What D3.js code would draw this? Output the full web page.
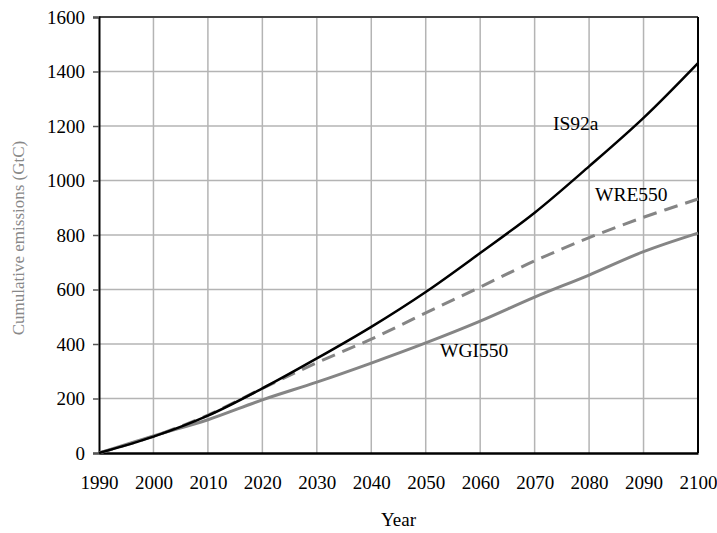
<!DOCTYPE html>
<html><head><meta charset="utf-8">
<script src="https://cdn.jsdelivr.net/npm/d3@7"></script>
<style>body{margin:0;background:#fff}svg{display:block}</style>
</head><body><svg id="c" width="717" height="533"></svg>
<script>
const years = [1990,2000,2010,2020,2030,2040,2050,2060,2070,2080,2090,2100];
const is92a  = [0,60,137,237,347,463,591,734,882,1052,1230,1431];
const wre550 = [0,61,139,237,331,418,514,609,705,790,865,932];
const wgi550 = [0,63,122,195,260,330,404,484,572,653,739,807];
const yTicks = [0,200,400,600,800,1000,1200,1400,1600];
const xTicks = [1990,2000,2010,2020,2030,2040,2050,2060,2070,2080,2090,2100];
const seriesNames = ["IS92a","WRE550","WGI550"];
const xTitle = "Year";
const yTitle = "Cumulative emissions (GtC)";

const svg = d3.select("#c");
const L=99, R=698, T=17, B=453;
const x = d3.scaleLinear().domain([1990,2100]).range([L,R]);
const y = d3.scaleLinear().domain([0,1600]).range([B,T]);
const font = "Liberation Serif, Times New Roman, serif";
const fs = 19;

// grid
svg.append("g").selectAll("line").data(xTicks.slice(1,-1)).join("line")
  .attr("x1",d=>x(d)).attr("x2",d=>x(d)).attr("y1",T).attr("y2",B)
  .attr("stroke","#b4b4b4").attr("stroke-width",1.5);
svg.append("g").selectAll("line").data(yTicks.slice(1,-1)).join("line")
  .attr("x1",L).attr("x2",R).attr("y1",d=>y(d)).attr("y2",d=>y(d))
  .attr("stroke","#b4b4b4").attr("stroke-width",1.5);

// frame
svg.append("line").attr("x1",L).attr("x2",R).attr("y1",T).attr("y2",T).attr("stroke","#444").attr("stroke-width",2);
svg.append("line").attr("x1",R).attr("x2",R).attr("y1",T).attr("y2",B).attr("stroke","#000").attr("stroke-width",2);

// axes
const yAxis = d3.axisLeft(y).tickValues(yTicks).tickSize(6).tickPadding(8).tickFormat(d3.format("d"));
const gy = svg.append("g").attr("transform",`translate(${L},0)`).call(yAxis)
  .attr("font-family",font).attr("font-size",fs);
gy.select(".domain").attr("stroke","#000").attr("stroke-width",2);
gy.selectAll(".tick line").attr("stroke","#555").attr("stroke-width",1.5);
gy.selectAll("text").style("font-family",font).style("font-size",fs+"px").attr("fill","#000");

const xAxis = d3.axisBottom(x).tickValues(xTicks).tickSize(0).tickPadding(23).tickFormat(d3.format("d"));
const gx = svg.append("g").attr("transform",`translate(0,${B})`).call(xAxis)
  .attr("font-family",font).attr("font-size",fs);
gx.select(".domain").attr("stroke","#000").attr("stroke-width",2.5);
gx.selectAll("text").style("font-family",font).style("font-size",fs+"px").attr("fill","#000");

// titles
svg.append("text").attr("x",(L+R)/2).attr("y",526).attr("text-anchor","middle")
  .style("font-family",font).style("font-size",fs+"px").text(xTitle);
svg.append("text").attr("transform","translate(24,238) rotate(-90)").attr("text-anchor","middle")
  .style("font-family",font).style("font-size","17px").attr("fill","#888").text(yTitle);

// lines
const line = d3.line().x((d,i)=>x(years[i])).y(d=>y(d)).curve(d3.curveCatmullRom);
svg.append("path").datum(wgi550).attr("d",line).attr("fill","none").attr("stroke","#858585").attr("stroke-width",3);
svg.append("path").datum(wre550).attr("d",line).attr("fill","none").attr("stroke","#858585").attr("stroke-width",3).attr("stroke-dasharray","14,8");
svg.append("path").datum(is92a).attr("d",line).attr("fill","none").attr("stroke","#000").attr("stroke-width",2.5);

// labels
const lab = [[seriesNames[0],553,130],[seriesNames[1],595,201],[seriesNames[2],440,357]];
svg.append("g").selectAll("text").data(lab).join("text")
  .attr("x",d=>d[1]).attr("y",d=>d[2]).style("font-family",font).style("font-size","19.5px").text(d=>d[0]);
</script></body></html>
